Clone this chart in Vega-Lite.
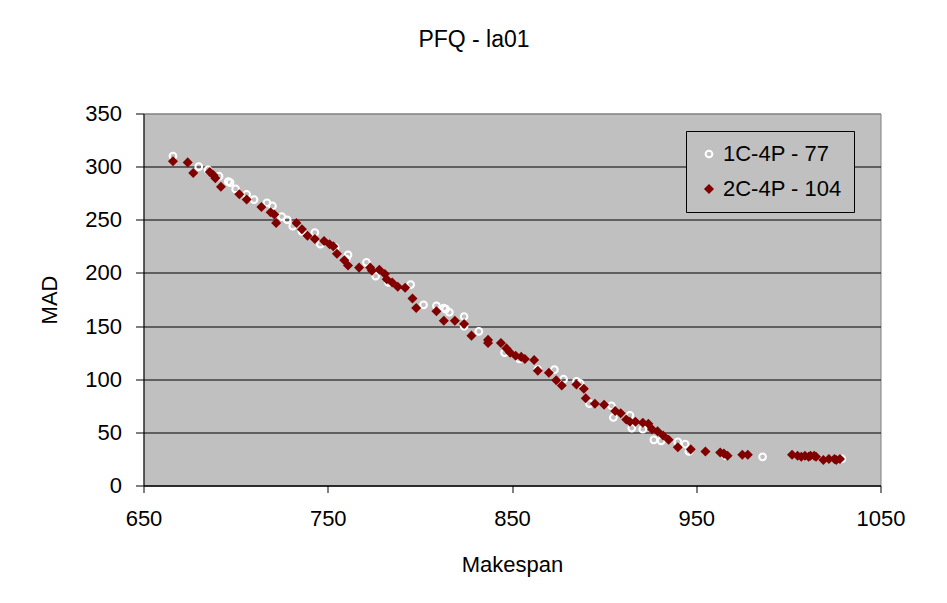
{
  "$schema": "https://vega.github.io/schema/vega-lite/v6.json",
  "width": 737,
  "height": 372,
  "autosize": {"type": "none"},
  "padding": {"left": 143.5, "top": 113.5, "right": 66.5, "bottom": 117.5},
  "background": "white",
  "title": {"text": "PFQ - la01", "fontSize": 23, "font": "Liberation Sans", "fontWeight": "normal", "color": "black", "anchor": "middle", "offset": 51, "dx": -38},
  "view": {"fill": "#C0C0C0", "stroke": "#808080", "strokeWidth": 1},
  "config": {
    "font": "Liberation Sans"
  },
  "data": {
    "values": [
      {"Makespan": 666, "MAD": 310, "series": "1C-4P - 77"},
      {"Makespan": 680, "MAD": 300, "series": "1C-4P - 77"},
      {"Makespan": 685, "MAD": 297, "series": "1C-4P - 77"},
      {"Makespan": 691, "MAD": 291, "series": "1C-4P - 77"},
      {"Makespan": 696, "MAD": 286, "series": "1C-4P - 77"},
      {"Makespan": 697, "MAD": 285, "series": "1C-4P - 77"},
      {"Makespan": 700, "MAD": 279, "series": "1C-4P - 77"},
      {"Makespan": 706, "MAD": 274, "series": "1C-4P - 77"},
      {"Makespan": 710, "MAD": 269, "series": "1C-4P - 77"},
      {"Makespan": 717, "MAD": 266, "series": "1C-4P - 77"},
      {"Makespan": 720, "MAD": 263, "series": "1C-4P - 77"},
      {"Makespan": 725, "MAD": 253, "series": "1C-4P - 77"},
      {"Makespan": 728, "MAD": 250, "series": "1C-4P - 77"},
      {"Makespan": 731, "MAD": 244, "series": "1C-4P - 77"},
      {"Makespan": 736, "MAD": 239, "series": "1C-4P - 77"},
      {"Makespan": 743, "MAD": 238, "series": "1C-4P - 77"},
      {"Makespan": 746, "MAD": 227, "series": "1C-4P - 77"},
      {"Makespan": 754, "MAD": 224, "series": "1C-4P - 77"},
      {"Makespan": 761, "MAD": 217, "series": "1C-4P - 77"},
      {"Makespan": 760, "MAD": 213, "series": "1C-4P - 77"},
      {"Makespan": 771, "MAD": 210, "series": "1C-4P - 77"},
      {"Makespan": 776, "MAD": 197, "series": "1C-4P - 77"},
      {"Makespan": 783, "MAD": 191, "series": "1C-4P - 77"},
      {"Makespan": 795, "MAD": 189, "series": "1C-4P - 77"},
      {"Makespan": 802, "MAD": 170, "series": "1C-4P - 77"},
      {"Makespan": 809, "MAD": 169, "series": "1C-4P - 77"},
      {"Makespan": 813, "MAD": 167, "series": "1C-4P - 77"},
      {"Makespan": 814, "MAD": 166, "series": "1C-4P - 77"},
      {"Makespan": 816, "MAD": 163, "series": "1C-4P - 77"},
      {"Makespan": 824, "MAD": 159, "series": "1C-4P - 77"},
      {"Makespan": 824, "MAD": 150, "series": "1C-4P - 77"},
      {"Makespan": 832, "MAD": 145, "series": "1C-4P - 77"},
      {"Makespan": 846, "MAD": 125, "series": "1C-4P - 77"},
      {"Makespan": 854, "MAD": 119, "series": "1C-4P - 77"},
      {"Makespan": 864, "MAD": 109, "series": "1C-4P - 77"},
      {"Makespan": 873, "MAD": 109, "series": "1C-4P - 77"},
      {"Makespan": 878, "MAD": 100, "series": "1C-4P - 77"},
      {"Makespan": 885, "MAD": 98, "series": "1C-4P - 77"},
      {"Makespan": 887, "MAD": 96, "series": "1C-4P - 77"},
      {"Makespan": 892, "MAD": 77, "series": "1C-4P - 77"},
      {"Makespan": 904, "MAD": 75, "series": "1C-4P - 77"},
      {"Makespan": 905, "MAD": 64, "series": "1C-4P - 77"},
      {"Makespan": 914, "MAD": 66, "series": "1C-4P - 77"},
      {"Makespan": 915, "MAD": 54, "series": "1C-4P - 77"},
      {"Makespan": 921, "MAD": 53, "series": "1C-4P - 77"},
      {"Makespan": 927, "MAD": 43, "series": "1C-4P - 77"},
      {"Makespan": 931, "MAD": 42, "series": "1C-4P - 77"},
      {"Makespan": 940, "MAD": 41, "series": "1C-4P - 77"},
      {"Makespan": 944, "MAD": 39, "series": "1C-4P - 77"},
      {"Makespan": 946, "MAD": 32, "series": "1C-4P - 77"},
      {"Makespan": 966, "MAD": 28, "series": "1C-4P - 77"},
      {"Makespan": 986, "MAD": 27, "series": "1C-4P - 77"},
      {"Makespan": 1029, "MAD": 25, "series": "1C-4P - 77"},
      {"Makespan": 666, "MAD": 305, "series": "2C-4P - 104"},
      {"Makespan": 674, "MAD": 304, "series": "2C-4P - 104"},
      {"Makespan": 677, "MAD": 294, "series": "2C-4P - 104"},
      {"Makespan": 686, "MAD": 295, "series": "2C-4P - 104"},
      {"Makespan": 688, "MAD": 292, "series": "2C-4P - 104"},
      {"Makespan": 689, "MAD": 289, "series": "2C-4P - 104"},
      {"Makespan": 692, "MAD": 281, "series": "2C-4P - 104"},
      {"Makespan": 702, "MAD": 274, "series": "2C-4P - 104"},
      {"Makespan": 706, "MAD": 269, "series": "2C-4P - 104"},
      {"Makespan": 714, "MAD": 262, "series": "2C-4P - 104"},
      {"Makespan": 719, "MAD": 257, "series": "2C-4P - 104"},
      {"Makespan": 721, "MAD": 255, "series": "2C-4P - 104"},
      {"Makespan": 722, "MAD": 247, "series": "2C-4P - 104"},
      {"Makespan": 733, "MAD": 247, "series": "2C-4P - 104"},
      {"Makespan": 736, "MAD": 241, "series": "2C-4P - 104"},
      {"Makespan": 739, "MAD": 235, "series": "2C-4P - 104"},
      {"Makespan": 743, "MAD": 232, "series": "2C-4P - 104"},
      {"Makespan": 748, "MAD": 230, "series": "2C-4P - 104"},
      {"Makespan": 751, "MAD": 227, "series": "2C-4P - 104"},
      {"Makespan": 753, "MAD": 225, "series": "2C-4P - 104"},
      {"Makespan": 755, "MAD": 218, "series": "2C-4P - 104"},
      {"Makespan": 759, "MAD": 212, "series": "2C-4P - 104"},
      {"Makespan": 761, "MAD": 207, "series": "2C-4P - 104"},
      {"Makespan": 767, "MAD": 205, "series": "2C-4P - 104"},
      {"Makespan": 773, "MAD": 205, "series": "2C-4P - 104"},
      {"Makespan": 774, "MAD": 202, "series": "2C-4P - 104"},
      {"Makespan": 778, "MAD": 203, "series": "2C-4P - 104"},
      {"Makespan": 781, "MAD": 199, "series": "2C-4P - 104"},
      {"Makespan": 782, "MAD": 194, "series": "2C-4P - 104"},
      {"Makespan": 785, "MAD": 191, "series": "2C-4P - 104"},
      {"Makespan": 788, "MAD": 187, "series": "2C-4P - 104"},
      {"Makespan": 792, "MAD": 186, "series": "2C-4P - 104"},
      {"Makespan": 796, "MAD": 176, "series": "2C-4P - 104"},
      {"Makespan": 798, "MAD": 167, "series": "2C-4P - 104"},
      {"Makespan": 809, "MAD": 164, "series": "2C-4P - 104"},
      {"Makespan": 813, "MAD": 155, "series": "2C-4P - 104"},
      {"Makespan": 819, "MAD": 155, "series": "2C-4P - 104"},
      {"Makespan": 824, "MAD": 152, "series": "2C-4P - 104"},
      {"Makespan": 828, "MAD": 141, "series": "2C-4P - 104"},
      {"Makespan": 837, "MAD": 137, "series": "2C-4P - 104"},
      {"Makespan": 837, "MAD": 134, "series": "2C-4P - 104"},
      {"Makespan": 844, "MAD": 134, "series": "2C-4P - 104"},
      {"Makespan": 847, "MAD": 129, "series": "2C-4P - 104"},
      {"Makespan": 849, "MAD": 125, "series": "2C-4P - 104"},
      {"Makespan": 852, "MAD": 122, "series": "2C-4P - 104"},
      {"Makespan": 855, "MAD": 121, "series": "2C-4P - 104"},
      {"Makespan": 857, "MAD": 119, "series": "2C-4P - 104"},
      {"Makespan": 862, "MAD": 118, "series": "2C-4P - 104"},
      {"Makespan": 864, "MAD": 108, "series": "2C-4P - 104"},
      {"Makespan": 870, "MAD": 106, "series": "2C-4P - 104"},
      {"Makespan": 874, "MAD": 99, "series": "2C-4P - 104"},
      {"Makespan": 877, "MAD": 94, "series": "2C-4P - 104"},
      {"Makespan": 885, "MAD": 95, "series": "2C-4P - 104"},
      {"Makespan": 889, "MAD": 91, "series": "2C-4P - 104"},
      {"Makespan": 890, "MAD": 82, "series": "2C-4P - 104"},
      {"Makespan": 895, "MAD": 77, "series": "2C-4P - 104"},
      {"Makespan": 900, "MAD": 76, "series": "2C-4P - 104"},
      {"Makespan": 906, "MAD": 70, "series": "2C-4P - 104"},
      {"Makespan": 909, "MAD": 68, "series": "2C-4P - 104"},
      {"Makespan": 912, "MAD": 62, "series": "2C-4P - 104"},
      {"Makespan": 914, "MAD": 60, "series": "2C-4P - 104"},
      {"Makespan": 917, "MAD": 60, "series": "2C-4P - 104"},
      {"Makespan": 921, "MAD": 59, "series": "2C-4P - 104"},
      {"Makespan": 924, "MAD": 58, "series": "2C-4P - 104"},
      {"Makespan": 926, "MAD": 53, "series": "2C-4P - 104"},
      {"Makespan": 929, "MAD": 51, "series": "2C-4P - 104"},
      {"Makespan": 932, "MAD": 47, "series": "2C-4P - 104"},
      {"Makespan": 935, "MAD": 43, "series": "2C-4P - 104"},
      {"Makespan": 940, "MAD": 36, "series": "2C-4P - 104"},
      {"Makespan": 947, "MAD": 34, "series": "2C-4P - 104"},
      {"Makespan": 955, "MAD": 32, "series": "2C-4P - 104"},
      {"Makespan": 963, "MAD": 31, "series": "2C-4P - 104"},
      {"Makespan": 965, "MAD": 30, "series": "2C-4P - 104"},
      {"Makespan": 967, "MAD": 28, "series": "2C-4P - 104"},
      {"Makespan": 975, "MAD": 29, "series": "2C-4P - 104"},
      {"Makespan": 978, "MAD": 29, "series": "2C-4P - 104"},
      {"Makespan": 1002, "MAD": 29, "series": "2C-4P - 104"},
      {"Makespan": 1005, "MAD": 28, "series": "2C-4P - 104"},
      {"Makespan": 1007, "MAD": 27, "series": "2C-4P - 104"},
      {"Makespan": 1009, "MAD": 28, "series": "2C-4P - 104"},
      {"Makespan": 1011, "MAD": 27, "series": "2C-4P - 104"},
      {"Makespan": 1012, "MAD": 28, "series": "2C-4P - 104"},
      {"Makespan": 1014, "MAD": 28, "series": "2C-4P - 104"},
      {"Makespan": 1015, "MAD": 27, "series": "2C-4P - 104"},
      {"Makespan": 1019, "MAD": 24, "series": "2C-4P - 104"},
      {"Makespan": 1022, "MAD": 25, "series": "2C-4P - 104"},
      {"Makespan": 1025, "MAD": 25, "series": "2C-4P - 104"},
      {"Makespan": 1026, "MAD": 24, "series": "2C-4P - 104"},
      {"Makespan": 1028, "MAD": 25, "series": "2C-4P - 104"}
    ]
  },
  "mark": {"type": "point", "strokeWidth": 2, "opacity": 1},
  "encoding": {
    "x": {
      "field": "Makespan", "type": "quantitative",
      "scale": {"domain": [650, 1050], "nice": false, "zero": false},
      "axis": {
        "values": [650, 750, 850, 950, 1050], "grid": false, "format": "d", "labelFlush": false,
        "domainColor": "black", "tickColor": "black", "tickSize": 7,
        "labelFontSize": 22, "labelColor": "black", "labelPadding": 16, "labelFont": "Liberation Sans",
        "title": "Makespan", "titleFontSize": 22, "titleFontWeight": "normal", "titleColor": "black", "titlePadding": 25, "titleFont": "Liberation Sans"
      }
    },
    "y": {
      "field": "MAD", "type": "quantitative",
      "scale": {"domain": [0, 350], "nice": false},
      "axis": {
        "values": [0, 50, 100, 150, 200, 250, 300, 350], "grid": true, "labelFlush": false,
        "gridColor": {"condition": {"test": "datum.value === 350", "value": "#808080"}, "value": "black"},
        "gridOpacity": 1, "gridWidth": 1,
        "domainColor": "black", "tickColor": "black", "tickSize": 8,
        "labelFontSize": 22, "labelColor": "black", "labelPadding": 14, "labelFont": "Liberation Sans",
        "title": "MAD", "titleFontSize": 22, "titleFontWeight": "normal", "titleColor": "black", "titlePadding": 23, "titleFont": "Liberation Sans"
      }
    },
    "shape": {
      "field": "series", "type": "nominal",
      "scale": {"domain": ["1C-4P - 77", "2C-4P - 104"], "range": ["circle", "diamond"]},
      "legend": {
        "orient": "none", "legendX": 542.5, "legendY": 17.5, "title": null,
        "fillColor": "#C0C0C0", "strokeColor": "black", "padding": 12,
        "labelFontSize": 22, "labelColor": "black", "labelFont": "Liberation Sans", "labelOffset": 3,
        "rowPadding": 13, "symbolStrokeWidth": 2
      }
    },
    "fill": {
      "field": "series", "type": "nominal",
      "scale": {"domain": ["1C-4P - 77", "2C-4P - 104"], "range": ["transparent", "#800000"]}
    },
    "stroke": {
      "field": "series", "type": "nominal",
      "scale": {"domain": ["1C-4P - 77", "2C-4P - 104"], "range": ["white", "#800000"]}
    },
    "size": {
      "field": "series", "type": "nominal",
      "scale": {"domain": ["1C-4P - 77", "2C-4P - 104"], "range": [45, 52]}
    }
  }
}
